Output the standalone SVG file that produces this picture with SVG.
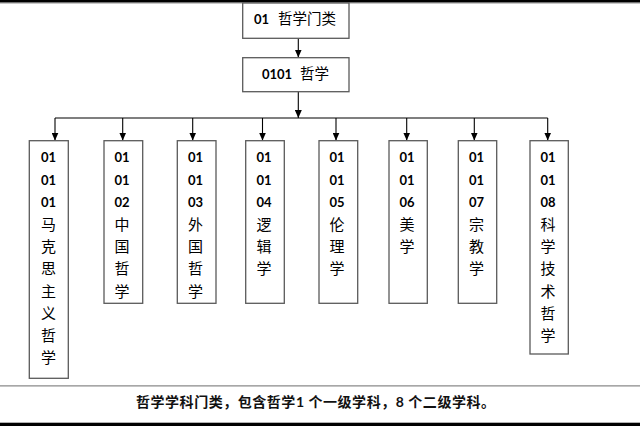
<svg xmlns="http://www.w3.org/2000/svg" width="640" height="426" viewBox="0 0 640 426">
<style>
.box{fill:#fff;stroke:#5a5a5a;stroke-width:1.3}
.num{font-family:Lato,"Liberation Sans",sans-serif;font-weight:bold;font-size:13px;fill:#000;text-anchor:middle}
.cjk{font-family:"Noto Sans CJK SC",sans-serif;font-size:15px;fill:#000;text-anchor:middle}
.lbl{font-family:Lato,"Noto Sans CJK SC",sans-serif;font-size:14.5px;fill:#000}
.wire{fill:none;stroke:#000;stroke-width:1.1}
.cap{font-family:Lato,"Noto Sans CJK SC",sans-serif;font-size:14px;font-weight:bold;fill:#111}
</style>
<defs>
<marker id="ah" markerWidth="8" markerHeight="7" refX="8" refY="3.5" orient="auto" markerUnits="userSpaceOnUse">
<path d="M0,0 L8,3.5 L0,7 Z" fill="#000"/>
</marker>
</defs>
<rect width="640" height="426" fill="#fff"/>
<rect x="0" y="0" width="640" height="2.6" fill="#000"/>
<line x1="0" y1="3.2" x2="640" y2="3.2" stroke="#999" stroke-width="0.8"/>
<line x1="0" y1="385.8" x2="640" y2="385.8" stroke="#8a8a8a" stroke-width="1.3"/>
<rect x="0" y="422.7" width="640" height="3.3" fill="#000"/>

<g id="connectors">
<line class="wire" x1="298.3" y1="38.3" x2="298.3" y2="57.5" marker-end="url(#ah)"/>
<line class="wire" x1="298.3" y1="91.7" x2="298.3" y2="118" marker-end="url(#ah)"/>
<line class="wire" x1="55" y1="118" x2="547.7" y2="118"/>
<line class="wire" x1="55" y1="118" x2="55" y2="140.5" marker-end="url(#ah)"/>
<line class="wire" x1="122.7" y1="118" x2="122.7" y2="140.5" marker-end="url(#ah)"/>
<line class="wire" x1="192.7" y1="118" x2="192.7" y2="140.5" marker-end="url(#ah)"/>
<line class="wire" x1="262.5" y1="118" x2="262.5" y2="140.5" marker-end="url(#ah)"/>
<line class="wire" x1="336" y1="118" x2="336" y2="140.5" marker-end="url(#ah)"/>
<line class="wire" x1="406.7" y1="118" x2="406.7" y2="140.5" marker-end="url(#ah)"/>
<line class="wire" x1="474.3" y1="118" x2="474.3" y2="140.5" marker-end="url(#ah)"/>
<line class="wire" x1="547.7" y1="118" x2="547.7" y2="140.5" marker-end="url(#ah)"/>
</g>

<g id="n01">
<rect class="box" x="242.7" y="3" width="106.3" height="35.3"/>
<text class="lbl" x="254" y="23.5"><tspan font-weight="bold" font-size="13">01</tspan><tspan x="278" font-family="Noto Sans CJK SC">哲学门类</tspan></text>
</g>

<g id="n0101">
<rect class="box" x="242.7" y="57.7" width="106.3" height="34"/>
<text class="lbl" x="262" y="79.2"><tspan font-weight="bold" font-size="13">0101</tspan><tspan x="300" font-family="Noto Sans CJK SC">哲学</tspan></text>
</g>

<g id="n010101">
<rect class="box" x="29.3" y="140.7" width="39" height="237.6"/>
<text class="num" x="48.5" y="162.3">01</text>
<text class="num" x="48.5" y="184.6">01</text>
<text class="num" x="48.5" y="206.9">01</text>
<text class="cjk" x="48.5" y="229.6">马</text>
<text class="cjk" x="48.5" y="251.9">克</text>
<text class="cjk" x="48.5" y="274.2">思</text>
<text class="cjk" x="48.5" y="296.5">主</text>
<text class="cjk" x="48.5" y="318.8">义</text>
<text class="cjk" x="48.5" y="341.1">哲</text>
<text class="cjk" x="48.5" y="363.4">学</text>
</g>

<g id="n010102">
<rect class="box" x="104" y="140.7" width="38.7" height="162.6"/>
<text class="num" x="122" y="162.3">01</text>
<text class="num" x="122" y="184.6">01</text>
<text class="num" x="122" y="206.9">02</text>
<text class="cjk" x="122" y="229.6">中</text>
<text class="cjk" x="122" y="251.9">国</text>
<text class="cjk" x="122" y="274.2">哲</text>
<text class="cjk" x="122" y="296.5">学</text>
</g>

<g id="n010103">
<rect class="box" x="177.3" y="140.7" width="38.7" height="162.6"/>
<text class="num" x="195.5" y="162.3">01</text>
<text class="num" x="195.5" y="184.6">01</text>
<text class="num" x="195.5" y="206.9">03</text>
<text class="cjk" x="195.5" y="229.6">外</text>
<text class="cjk" x="195.5" y="251.9">国</text>
<text class="cjk" x="195.5" y="274.2">哲</text>
<text class="cjk" x="195.5" y="296.5">学</text>
</g>

<g id="n010104">
<rect class="box" x="245.7" y="140.7" width="38.6" height="162.6"/>
<text class="num" x="264" y="162.3">01</text>
<text class="num" x="264" y="184.6">01</text>
<text class="num" x="264" y="206.9">04</text>
<text class="cjk" x="264" y="229.6">逻</text>
<text class="cjk" x="264" y="251.9">辑</text>
<text class="cjk" x="264" y="274.2">学</text>
</g>

<g id="n010105">
<rect class="box" x="319" y="140.7" width="38.7" height="162.6"/>
<text class="num" x="337" y="162.3">01</text>
<text class="num" x="337" y="184.6">01</text>
<text class="num" x="337" y="206.9">05</text>
<text class="cjk" x="337" y="229.6">伦</text>
<text class="cjk" x="337" y="251.9">理</text>
<text class="cjk" x="337" y="274.2">学</text>
</g>

<g id="n010106">
<rect class="box" x="389" y="140.7" width="38.3" height="162.6"/>
<text class="num" x="407" y="162.3">01</text>
<text class="num" x="407" y="184.6">01</text>
<text class="num" x="407" y="206.9">06</text>
<text class="cjk" x="407" y="229.6">美</text>
<text class="cjk" x="407" y="251.9">学</text>
</g>

<g id="n010107">
<rect class="box" x="458.3" y="140.7" width="38.4" height="162.6"/>
<text class="num" x="476.5" y="162.3">01</text>
<text class="num" x="476.5" y="184.6">01</text>
<text class="num" x="476.5" y="206.9">07</text>
<text class="cjk" x="476.5" y="229.6">宗</text>
<text class="cjk" x="476.5" y="251.9">教</text>
<text class="cjk" x="476.5" y="274.2">学</text>
</g>

<g id="n010108">
<rect class="box" x="530" y="140.7" width="38.3" height="213.3"/>
<text class="num" x="548" y="162.3">01</text>
<text class="num" x="548" y="184.6">01</text>
<text class="num" x="548" y="206.9">08</text>
<text class="cjk" x="548" y="229.6">科</text>
<text class="cjk" x="548" y="251.9">学</text>
<text class="cjk" x="548" y="274.2">技</text>
<text class="cjk" x="548" y="296.5">术</text>
<text class="cjk" x="548" y="318.8">哲</text>
<text class="cjk" x="548" y="341.1">学</text>
</g>

<text class="cap" x="136" y="406.5" textLength="359" lengthAdjust="spacing">哲学学科门类，包含哲学1 个一级学科，8 个二级学科。</text>
</svg>
